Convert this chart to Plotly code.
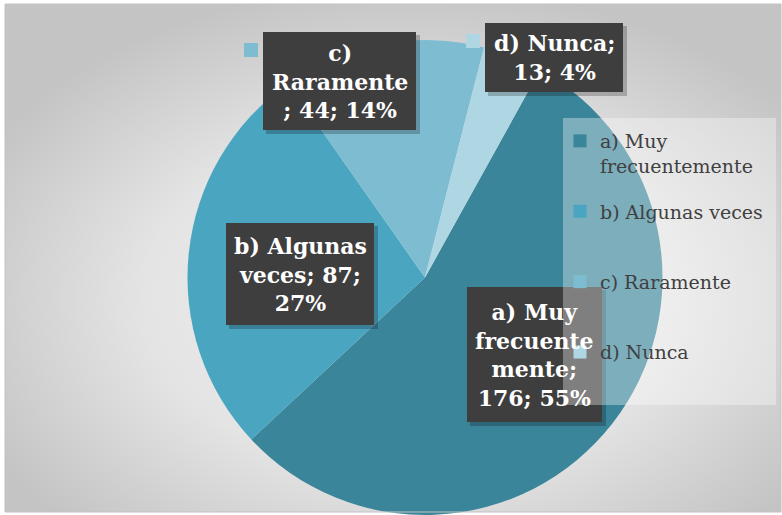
import plotly.graph_objects as go
import urllib.parse

# ---------------- data ----------------
categories = ["a) Muy frecuentemente", "b) Algunas veces", "c) Raramente", "d) Nunca"]
values = [176, 87, 44, 13]
legend_names = ["a) Muy<br>frecuentemente", "b) Algunas veces<br> ", "c) Raramente<br> ", "d) Nunca<br> "]
colors = ["#3A8599", "#4AA5C0", "#7EBDD1", "#AFD6E3"]

# ---------------- layout helpers ----------------
W, H = 782, 515
def px(x):
    return x / W
def py(y):
    return 1 - y / H

total = sum(values)
pcts = [round(v / total * 100) for v in values]

def wrap(text, n):
    words = text.split(" ")
    lines, cur = [], ""
    for w in words:
        cand = w if not cur else cur + " " + w
        if len(cand) <= n:
            cur = cand
            continue
        if cur:
            lines.append(cur)
            cur = ""
        while len(w) > n:
            lines.append(w[:n])
            w = w[n:]
        cur = w
    if cur:
        lines.append(cur)
    return "<br>".join(lines)

wrap_chars = [9, 10, 9, 9]
# label boxes (left, top, right, bottom) in pixels
label_boxes = [(467, 287, 602, 422), (226, 223, 374, 325), (263, 32, 416, 130), (485, 23, 623, 92)]

fig = go.Figure()

fig.add_trace(go.Pie(
    labels=categories,
    values=values,
    sort=False,
    direction="clockwise",
    rotation=29,
    marker=dict(colors=colors, line=dict(width=0)),
    textinfo="none",
    showlegend=False,
    domain=dict(x=[px(187), px(663)], y=[0, py(40)]),
    hoverinfo="label+value+percent",
))

# legend-only entries
for i, (nm, c) in enumerate(zip(legend_names, colors)):
    fig.add_trace(go.Scatter(
        x=[None], y=[None], mode="markers", name=nm,
        marker=dict(symbol="square", size=13, color=c),
        legendgroup=f"g{i}", showlegend=True,
    ))

shapes = []
annotations = []

# gradient background image
svg = ("<svg xmlns='http://www.w3.org/2000/svg' width='776' height='508' preserveAspectRatio='none'>"
       "<defs><radialGradient id='g' cx='52%' cy='58%' r='62%'>"
       "<stop offset='0' stop-color='#f0f0f0'/><stop offset='0.55' stop-color='#e4e4e4'/>"
       "<stop offset='1' stop-color='#c4c4c4'/></radialGradient></defs>"
       "<rect width='776' height='508' fill='url(#g)'/></svg>")
src = "data:image/svg+xml;charset=utf-8," + urllib.parse.quote(svg)

for i, (l, t, r, b) in enumerate(label_boxes):
    shapes.append(dict(type="rect", xref="paper", yref="paper", layer="above",
                       x0=px(l + 3), x1=px(r + 4), y0=py(b + 4), y1=py(t + 3),
                       fillcolor="rgba(0,0,0,0.22)", line=dict(width=0)))
    shapes.append(dict(type="rect", xref="paper", yref="paper", layer="above",
                       x0=px(l), x1=px(r), y0=py(b), y1=py(t),
                       fillcolor="#3e3e3e", line=dict(width=0)))
    # legend key next to label
    shapes.append(dict(type="rect", xref="paper", yref="paper", layer="above",
                       x0=px(l - 19), x1=px(l - 5), y0=py(t + 25), y1=py(t + 11),
                       fillcolor=colors[i], line=dict(width=0)))
    txt = wrap(f"{categories[i]}; {values[i]}; {pcts[i]}%", wrap_chars[i])
    annotations.append(dict(
        x=px((l + r) / 2), y=py((t + b) / 2), xref="paper", yref="paper",
        xanchor="center", yanchor="middle", showarrow=False, text=txt,
        font=dict(family="DejaVu Serif", size=22, color="white", weight="bold"),
        align="center",
    ))

# legend overlay box
shapes.append(dict(type="rect", xref="paper", yref="paper", layer="above",
                   x0=px(563), x1=px(776), y0=py(405), y1=py(118),
                   fillcolor="rgba(255,255,255,0.34)", line=dict(width=0)))
# chart border
shapes.append(dict(type="rect", xref="paper", yref="paper", layer="above",
                   x0=px(5), x1=px(781), y0=py(512), y1=py(4),
                   fillcolor="rgba(0,0,0,0)", line=dict(width=1, color="#c2c2c2")))

fig.update_layout(
    width=W, height=H,
    margin=dict(l=0, r=0, t=0, b=0),
    paper_bgcolor="white",
    plot_bgcolor="rgba(0,0,0,0)",
    xaxis=dict(visible=False),
    yaxis=dict(visible=False),
    images=[dict(source=src, xref="paper", yref="paper", x=px(5), y=py(4),
                 sizex=px(781) - px(5), sizey=py(4) - py(512), xanchor="left", yanchor="top",
                 sizing="stretch", layer="below")],
    shapes=shapes,
    annotations=annotations,
    legend=dict(
        x=px(560), y=py(122), xanchor="left", yanchor="top",
        bgcolor="rgba(0,0,0,0)", traceorder="grouped", tracegroupgap=18,
        valign="top",
        font=dict(family="DejaVu Serif", size=19, color="#404040"),
    ),
)

fig.write_html("out.html", config={"displayModeBar": False},
               post_script="document.body.style.margin='0';document.body.style.overflow='hidden';")
